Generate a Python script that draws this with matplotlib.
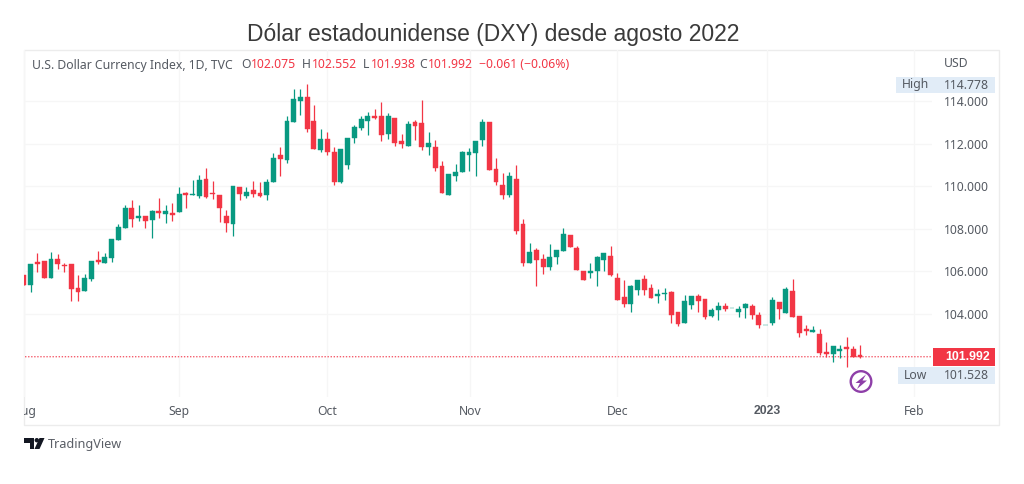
import matplotlib
matplotlib.use("Agg")
import matplotlib.pyplot as plt
from matplotlib.patches import Rectangle, Circle, Polygon
from matplotlib.transforms import Bbox

W, H = 1024, 484

# daily candles, Aug 2022 - Jan 2023
opens = [105.83, 105.34, 106.44, 106.48, 105.67, 106.58, 106.30, 106.36, 105.20, 105.09,
         105.64, 106.53, 106.37, 106.62, 107.47, 108.05, 108.97, 108.49, 108.61, 108.41,
         108.85, 108.69, 108.75, 108.80, 109.69, 109.57, 109.55, 110.32, 109.69, 109.57,
         108.60, 108.21, 109.97, 109.55, 109.84, 109.67, 109.60, 110.17, 111.48, 111.23,
         113.00, 113.98, 114.20, 113.05, 111.70, 112.20, 111.61, 110.20, 111.00, 112.26,
         112.73, 113.06, 113.31, 113.27, 112.47, 113.22, 112.11, 111.90, 113.00, 112.95,
         111.84, 111.82, 110.93, 109.57, 110.48, 110.65, 111.48, 111.55, 112.15, 113.00,
         110.81, 110.06, 109.59, 110.32, 108.23, 106.37, 106.98, 106.58, 106.22, 106.67,
         106.94, 107.70, 107.09, 106.00, 105.94, 106.00, 106.54, 106.72, 105.69, 104.80,
         104.46, 105.11, 105.64, 105.21, 104.82, 104.92, 105.02, 104.09, 103.59, 104.42,
         104.85, 104.72, 103.92, 104.19, 104.39, 104.27, 104.11, 104.27, 104.36, 103.95,
         103.47, 103.59, 104.56, 104.03, 105.06, 103.91, 103.31, 103.17, 103.06, 102.20,
         102.12, 102.28, 102.43, 102.37, 102.075]
highs = [105.83, 106.34, 106.84, 106.48, 106.92, 106.81, 106.41, 106.36, 105.83, 105.87,
         106.50, 106.95, 106.88, 107.52, 108.22, 109.11, 109.35, 109.11, 108.61, 108.88,
         109.46, 109.11, 109.22, 109.97, 109.74, 110.29, 110.52, 110.83, 110.24, 109.57,
         108.88, 110.00, 109.97, 109.94, 110.26, 110.21, 110.32, 111.54, 111.82, 113.27,
         114.56, 114.55, 114.778, 113.83, 112.67, 112.53, 111.82, 111.73, 112.28, 112.87,
         113.30, 113.50, 113.62, 113.94, 113.45, 113.22, 112.45, 113.08, 113.11, 114.02,
         112.53, 112.17, 111.17, 110.59, 111.04, 111.65, 111.78, 112.14, 113.17, 113.00,
         111.31, 110.60, 110.64, 111.00, 108.45, 107.32, 107.09, 106.80, 107.27, 106.99,
         108.02, 107.70, 107.20, 106.00, 106.38, 106.72, 106.88, 107.21, 105.91, 105.60,
         105.36, 105.60, 105.83, 105.41, 105.16, 105.21, 105.09, 104.09, 104.89, 104.85,
         104.92, 104.72, 104.27, 104.58, 104.53, 104.30, 104.39, 104.53, 104.45, 104.08,
         103.50, 104.81, 104.56, 105.28, 105.63, 103.91, 103.48, 103.45, 103.28, 102.70,
         102.50, 102.54, 102.90, 102.50, 102.552]
lows = [105.36, 105.04, 105.98, 105.67, 105.67, 106.09, 105.98, 104.62, 104.62, 105.09,
        105.56, 106.34, 106.37, 106.45, 107.47, 108.05, 108.10, 108.38, 108.02, 107.58,
        108.52, 108.25, 108.36, 108.80, 108.96, 109.57, 109.43, 109.43, 109.39, 108.33,
        107.83, 107.67, 109.35, 109.43, 109.51, 109.51, 109.35, 110.17, 110.48, 111.07,
        113.00, 113.34, 112.56, 111.76, 111.58, 111.47, 110.06, 110.13, 110.79, 112.01,
        112.64, 112.40, 113.14, 112.14, 112.20, 111.89, 111.78, 111.90, 112.17, 111.70,
        111.47, 110.73, 109.67, 109.57, 110.26, 110.65, 110.71, 110.48, 111.89, 110.78,
        110.06, 109.38, 109.48, 107.74, 106.27, 106.37, 105.32, 105.88, 106.07, 106.35,
        106.94, 107.12, 106.05, 105.61, 105.67, 105.32, 106.00, 105.80, 104.67, 104.34,
        104.11, 104.89, 104.89, 104.77, 104.50, 104.66, 103.59, 103.41, 103.59, 104.22,
        104.11, 103.75, 103.87, 103.72, 104.15, 104.27, 103.84, 103.80, 103.75, 103.36,
        103.47, 103.48, 103.77, 104.03, 103.87, 102.94, 103.01, 103.14, 102.08, 102.00,
        101.76, 101.92, 101.528, 101.97, 101.938]
closes = [105.36, 106.34, 106.34, 105.67, 106.58, 106.34, 106.25, 105.15, 105.03, 105.69,
          106.50, 106.44, 106.66, 107.52, 108.10, 108.96, 108.46, 108.61, 108.36, 108.85,
          108.72, 108.82, 108.64, 109.65, 109.58, 109.61, 110.29, 109.49, 109.61, 108.96,
          108.28, 110.00, 109.63, 109.71, 109.62, 109.54, 110.18, 111.34, 111.26, 113.05,
          114.09, 114.20, 112.69, 111.76, 112.20, 111.61, 110.20, 111.73, 112.28, 112.76,
          113.16, 113.31, 113.19, 112.42, 113.31, 112.01, 112.00, 112.92, 112.84, 111.82,
          112.01, 110.87, 109.67, 110.59, 110.67, 111.59, 111.58, 112.14, 113.02, 110.78,
          110.18, 109.59, 110.48, 107.87, 106.37, 106.93, 106.54, 106.22, 106.66, 106.99,
          107.77, 107.12, 106.05, 105.61, 106.03, 106.68, 106.85, 105.83, 104.67, 104.47,
          105.32, 105.57, 105.13, 104.77, 104.94, 105.00, 103.95, 103.55, 104.63, 104.85,
          104.63, 103.87, 104.19, 104.39, 104.25, 104.30, 104.24, 104.45, 103.97, 103.48,
          103.50, 104.66, 104.22, 105.16, 103.87, 103.12, 103.22, 103.25, 102.17, 102.12,
          102.50, 102.37, 102.37, 102.00, 101.992]

price_ticks = [104, 106, 108, 110, 112, 114]
date_pos = [0, 23, 45, 66.2, 88, 110.2, 132]
date_labels = ["Aug", "Sep", "Oct", "Nov", "Dec", "2023", "Feb"]
last_price = 101.992
high_price = 114.778
low_price = 101.528

GREEN = "#089981"
RED = "#f23645"
TEXT = "#555a62"
UI = "Noto Sans"
UI_SIZE = 8.8


def fx(x):
    return x / W


def fy(y):
    return 1 - y / H


def ftext(x, y, s, **kw):
    kw.setdefault("family", UI)
    kw.setdefault("fontsize", UI_SIZE)
    kw.setdefault("color", TEXT)
    kw.setdefault("va", "center")
    return fig.text(fx(x), fy(y), s, **kw)


def fbox(x0, y0, x1, y1, **kw):
    fig.add_artist(Rectangle((fx(x0), fy(y1)), fx(x1 - x0), (y1 - y0) / H,
                             transform=fig.transFigure, **kw))


fig = plt.figure(figsize=(W / 100, H / 100), dpi=100)

# outer chart frame
fbox(23.5, 50, 998.5, 425, facecolor="white", edgecolor="#ececec", lw=1, zorder=0)

ax = fig.add_axes([fx(24), fy(397), fx(932 - 24), (397 - 50) / H])
ax.patch.set_alpha(0)
ax.set_xlim(0.15, 134.67)
ax.set_ylim(100.10, 116.39)
for s in ax.spines.values():
    s.set_visible(False)
ax.grid(True, color="#f6f6f6", lw=0.9)
ax.set_axisbelow(True)

ax.set_xticks(date_pos)
ax.set_xticklabels(date_labels, family=UI, fontsize=UI_SIZE, color=TEXT)
ax.tick_params(axis="x", length=0, pad=6)
year_label = ax.xaxis.get_ticklabels()[5]
year_label.set_family("Liberation Sans")
year_label.set_fontweight("bold")
aug = ax.xaxis.get_ticklabels()[0]
aug.set_clip_box(Bbox([[24, 0], [200, H]]))
aug.set_clip_on(True)

ax.yaxis.tick_right()
ax.set_yticks(price_ticks)
ax.set_yticklabels([f"{p:.3f}" for p in price_ticks], family=UI, fontsize=UI_SIZE, color=TEXT)
ax.tick_params(axis="y", length=0, pad=8.6)

idx = range(len(opens))
colors = [GREEN if c >= o else RED for o, c in zip(opens, closes)]
ax.vlines(idx, lows, highs, colors=colors, lw=0.9, zorder=3)
ax.bar(idx, [abs(c - o) for o, c in zip(opens, closes)],
       bottom=[min(o, c) for o, c in zip(opens, closes)],
       width=0.72, color=colors, edgecolor=colors, lw=0.3, zorder=4)
ax.plot([0.15, 134.67], [last_price, last_price], color="#f4606f", lw=1.0,
        ls=(0, (1, 1.2)), zorder=2, snap=False)

fig.text(fx(493.5), fy(34), "Dólar estadounidense (DXY) desde agosto 2022", family="Liberation Sans",
         fontsize=16.5, color="#3a3a3a", ha="center", va="center")

# legend line
ftext(32, 65, "U.S. Dollar Currency Index, 1D, TVC")
header = [(241, "O", TEXT), (251, "102.075", RED), (302, "H", TEXT), (312, "102.552", RED),
          (363, "L", TEXT), (371, "101.938", RED), (419, "C", TEXT), (428, "101.992", RED),
          (479, "\u22120.061 (\u22120.06%)", RED)]
for x, s, c in header:
    ftext(x, 65, s, color=c)

# price scale labels
ftext(944, 63.5, "USD")
fbox(896, 77, 995, 93, facecolor="#e1ecf7", edgecolor="none", zorder=1)
ftext(902, 84.5, "High")
ftext(944, 85.5, f"{high_price:.3f}")
fbox(933, 348, 995, 366, facecolor=RED, edgecolor="none", zorder=1)
ftext(945, 357, f"{last_price:.3f}", color="white", family="Liberation Sans",
      fontweight="bold", fontsize=8.9)
fbox(898, 367, 995, 384, facecolor="#e1ecf7", edgecolor="none", zorder=1)
ftext(904, 375.5, "Low")
ftext(944, 375.5, f"{low_price:.3f}")

# lightning marker under the last candles
fig.add_artist(Circle((861, H - 381.5), 10.3, transform=None, facecolor="white",
                      edgecolor="#8e3fa8", lw=1.7))
bolt = [(866, 374.5), (855.5, 383), (860, 383), (857, 389), (867, 380.5), (862.5, 380.5)]
fig.add_artist(Polygon([(x, H - y) for x, y in bolt], transform=None, color="#8e3fa8", lw=0))

# TradingView logo
logo_t = [(24, 438), (34, 438), (34, 449), (29.5, 449), (29.5, 442.5), (24, 442.5)]
logo_v = [(39.5, 438), (44.5, 438), (39.5, 449), (34.5, 449)]
fig.add_artist(Polygon([(x, H - y) for x, y in logo_t], transform=None, color="#131722", lw=0))
fig.add_artist(Polygon([(x, H - y) for x, y in logo_v], transform=None, color="#131722", lw=0))
fig.add_artist(Circle((36.8, H - 440.2), 2.2, transform=None, color="#131722", lw=0))
ftext(48, 444.5, "TradingView", fontsize=9.1, color="#5a5e66")

fig.savefig("out.png", dpi=100)
